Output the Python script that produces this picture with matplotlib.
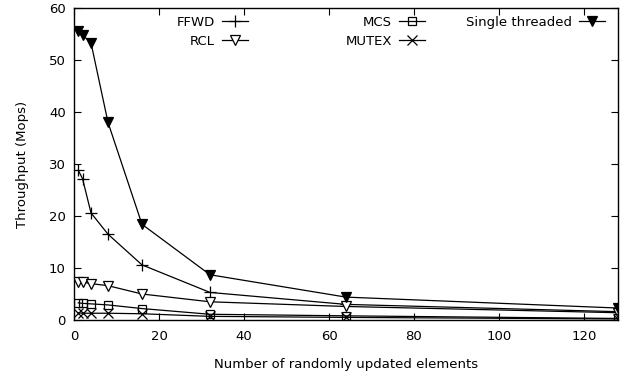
import numpy as np
import matplotlib.pyplot as plt
from matplotlib.legend import Legend

# number of randomly updated elements
elements = [1, 2, 4, 8, 16, 32, 64, 128]

# throughput in Mops
ffwd = [28.8, 27.2, 20.6, 16.5, 10.6, 5.3, 3.0, 1.6]
rcl = [7.3, 7.3, 7.0, 6.6, 5.0, 3.5, 2.6, 1.4]
mcs = [3.3, 3.2, 3.1, 2.9, 2.2, 1.1, 0.8, 0.3]
mutex = [1.4, 1.3, 1.3, 1.3, 1.2, 0.7, 0.5, 0.2]
single = [55.5, 54.8, 53.3, 38.0, 18.4, 8.7, 4.4, 2.3]

series = [
    ('FFWD', ffwd, dict(marker='+', ms=8, mew=0.9)),
    ('RCL', rcl, dict(marker='v', ms=6.5, mfc='white', mew=0.9)),
    ('MCS', mcs, dict(marker='s', ms=6, mfc='none', mew=0.9)),
    ('MUTEX', mutex, dict(marker='x', ms=6.5, mew=0.9)),
    ('Single threaded', single, dict(marker='v', ms=6.5, mfc='black', mew=0.9)),
]

plt.rcParams['font.family'] = 'DejaVu Sans'
plt.rcParams['font.size'] = 9.5

fig = plt.figure(figsize=(6.31, 3.75), dpi=100)
ax = fig.add_axes([74 / 631, 1 - 320 / 375, (618 - 74) / 631, (320 - 8) / 375])

handles = []
for name, vals, style in series:
    h, = ax.plot(elements, vals, color='black', lw=0.9, label=name, **style)
    handles.append(h)

ax.set_xlim(0, 128)
ax.set_ylim(0, 60)
ax.set_xticks(np.arange(0, 121, 20))
ax.set_yticks(np.arange(0, 61, 10))
ax.tick_params(direction='in', length=5, width=0.8, top=True, right=True)
ax.tick_params(axis='x', pad=7)
ax.tick_params(axis='y', pad=6)
for sp in ax.spines.values():
    sp.set_linewidth(1.0)

ax.set_xlabel('Number of randomly updated elements', labelpad=11)
ax.set_ylabel('Throughput (Mops)', labelpad=14)

# key laid out in three right-aligned columns
columns = [(handles[0:2], 248), (handles[2:4], 425), (handles[4:5], 605)]
top = 1 - (16 - 8) / 312
for hs, right in columns:
    leg = Legend(ax, hs, [h.get_label() for h in hs], loc='upper right',
                 bbox_to_anchor=((right - 74) / 544, top), frameon=False,
                 markerfirst=False, handlelength=2.0, handletextpad=0.5,
                 labelspacing=0.45, borderaxespad=0, borderpad=0)
    ax.add_artist(leg)

fig.savefig('out.png', dpi=100)
